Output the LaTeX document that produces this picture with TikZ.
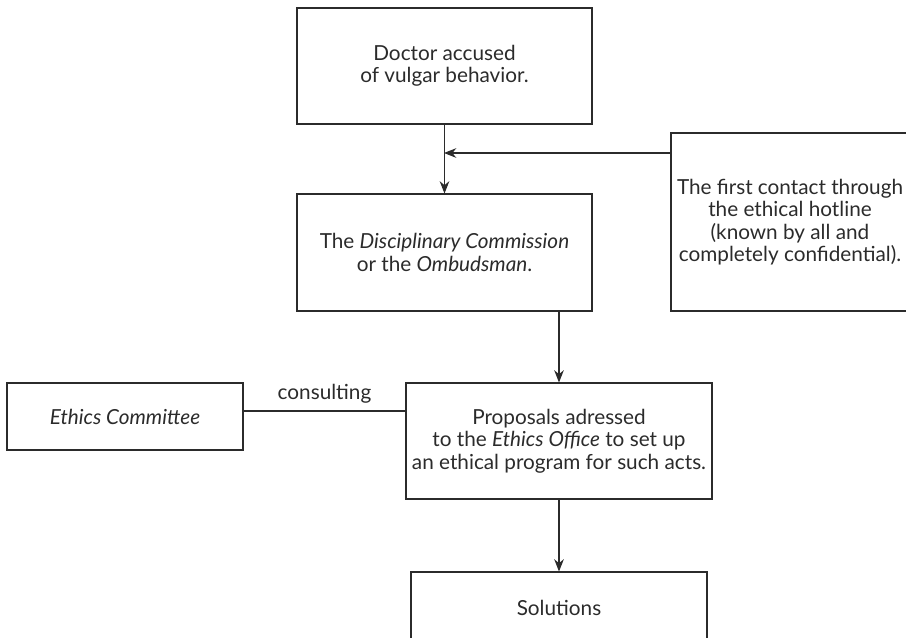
\documentclass[tikz,border=0pt]{standalone}
\usepackage{fontspec}
\setmainfont{Lato}
\usepackage{xcolor}
\usetikzlibrary{arrows.meta}
\definecolor{ink}{HTML}{2B2B2B}

\begin{document}
\begin{tikzpicture}[x=0.02cm, y=-0.02cm, % one unit is one pixel of the page
		txt/.style={align=center, text=ink, font=\fontsize{11.8}{12.8}\selectfont},
		box/.style={txt, draw=ink, line width=0.6pt, inner sep=0pt},
		link/.style={draw=ink, line width=0.6pt},
		arr/.style={link, -{Stealth[length=7pt, width=5.5pt]}}]
		% Page frame
		\useasboundingbox (0,0) rectangle (906,637);
		\clip (0,0) rectangle (906,637);

		% Draw the boxes
		\node[box, minimum width=295*0.02cm, minimum height=116*0.02cm] (doctor) at (444.5,66) {Doctor accused\\of vulgar behavior.};
		\node[box, minimum width=295*0.02cm, minimum height=117*0.02cm] (discip) at (444.5,252.5) {The \textit{Disciplinary Commission}\\or the \textit{Ombudsman}.};
		\node[box, minimum width=250*0.02cm, minimum height=178*0.02cm] (hotline) at (796,222) {};
		\node[txt] (hottext) at (790,222) {The first contact through\\the ethical hotline\\(known by all and\\completely confidential).};
		\node[box, minimum width=236*0.02cm, minimum height=67*0.02cm] (ethics) at (125,416.5) {\textit{Ethics Committee}};
		\node[box, minimum width=306*0.02cm, minimum height=116*0.02cm] (props) at (559,441) {Proposals adressed\\to the \textit{Ethics Office} to set up\\an ethical program for such acts.};
		\node[box, minimum width=296*0.02cm, minimum height=72*0.02cm] (sol) at (559,608) {Solutions};

		% Points where the connectors run
		\coordinate (join) at (444,153);
		\coordinate (side) at (0,411);

		% Draw the connectors
		\draw[arr] (doctor) -- (discip);
		\draw[arr] (hotline.west |- join) -- (join);
		\draw[arr] (discip.south -| props.north) -- (props.north);
		\draw[link] (ethics.east |- side) -- (props.west |- side) node[txt, midway, above=1pt] (cons) {consulting};
		\draw[arr] (props) -- (sol);
	\end{tikzpicture}
\end{document}
